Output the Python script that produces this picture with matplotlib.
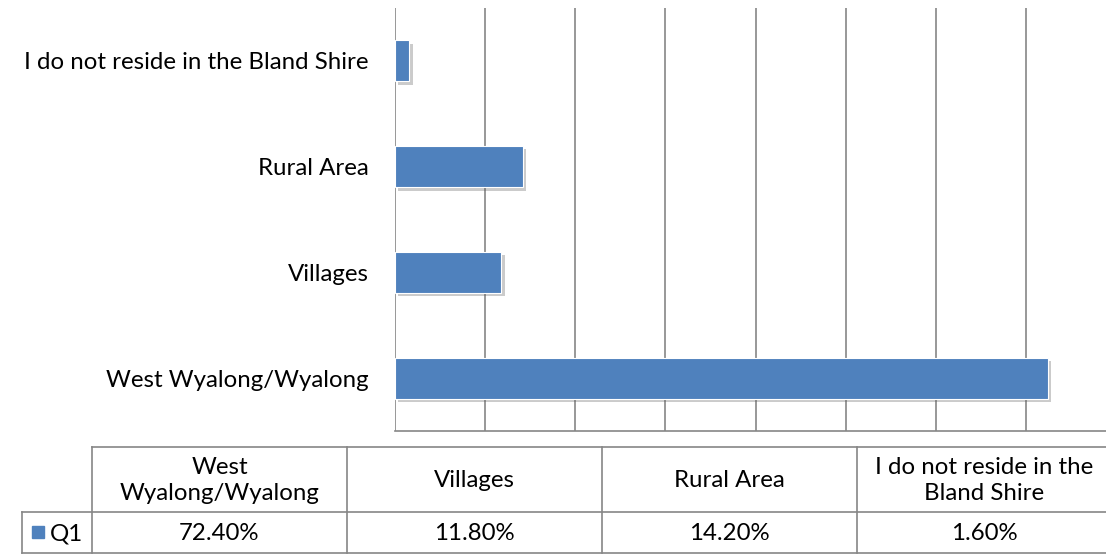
import matplotlib.pyplot as plt
import matplotlib.patheffects as pe

# data
categories = ['West Wyalong/Wyalong', 'Villages', 'Rural Area',
              'I do not reside in the Bland Shire']
header_labels = ['West\nWyalong/Wyalong', 'Villages', 'Rural Area',
                 'I do not reside in the\nBland Shire']
q1_values = [72.4, 11.8, 14.2, 1.6]
series_name = 'Q1'

bar_color = '#4F81BD'
grid_color = '#868686'
W, H = 1106, 554

plt.rcParams['font.family'] = ['Lato', 'DejaVu Sans']

fig = plt.figure(figsize=(W / 100, H / 100), dpi=100)

# plot area runs past the right edge like the cropped original
ax = fig.add_axes([395 / W, (H - 431) / H, (1116 - 395) / W, (431 - 8) / H])
ypos = range(len(categories))
bars = ax.barh(ypos, q1_values, height=0.39, color=bar_color,
               edgecolor='white', linewidth=0.8, zorder=3)
for b in bars:
    b.set_path_effects([pe.SimplePatchShadow(offset=(2.5, -2.5), shadow_rgbFace='#555555', alpha=0.3),
                        pe.Normal()])
ax.set_xlim(0, 80)
ax.set_ylim(-0.5, len(categories) - 0.5)
ax.set_xticks(range(0, 81, 10))
ax.xaxis.grid(True, color=grid_color, linewidth=1.2, zorder=0)
ax.set_yticks(list(ypos))
ax.set_yticklabels(categories, fontsize=17.3)
ax.tick_params(axis='y', length=0, pad=19)
ax.tick_params(axis='x', length=0, labelbottom=False)
for s in ['top', 'right', 'left']:
    ax.spines[s].set_visible(False)
ax.spines['bottom'].set_color(grid_color)
ax.spines['bottom'].set_linewidth(1.2)

# data table below the chart, drawn in pixel coordinates
tab = fig.add_axes([0, 0, 1, 1])
tab.set_xlim(0, W)
tab.set_ylim(H, 0)
tab.axis('off')
line_kw = dict(color=grid_color, linewidth=1.2)
col_x0, col_w = 92, 255
top, mid, bot = 447, 512, 553
ncol = len(categories)
right = col_x0 + ncol * col_w
tab.plot([col_x0, right], [top, top], **line_kw)
tab.plot([22, right], [mid, mid], **line_kw)
tab.plot([22, right], [bot, bot], **line_kw)
tab.plot([22, 22], [mid, bot], **line_kw)
for i in range(ncol + 1):
    x = col_x0 + i * col_w
    tab.plot([x, x], [top, bot], **line_kw)
for i, (lab, v) in enumerate(zip(header_labels, q1_values)):
    cx = col_x0 + (i + 0.5) * col_w
    tab.text(cx, (top + mid) / 2 + 1, lab, ha='center', va='center', fontsize=17.3,
             linespacing=1.35)
    tab.text(cx, (mid + bot) / 2 + 1, f'{v:.2f}%', ha='center', va='center', fontsize=17.3)
tab.add_patch(plt.Rectangle((32, 526), 12, 12, color=bar_color))
tab.text(50, (mid + bot) / 2 + 1, series_name, ha='left', va='center', fontsize=17.3)

fig.savefig('out.png', dpi=100)
